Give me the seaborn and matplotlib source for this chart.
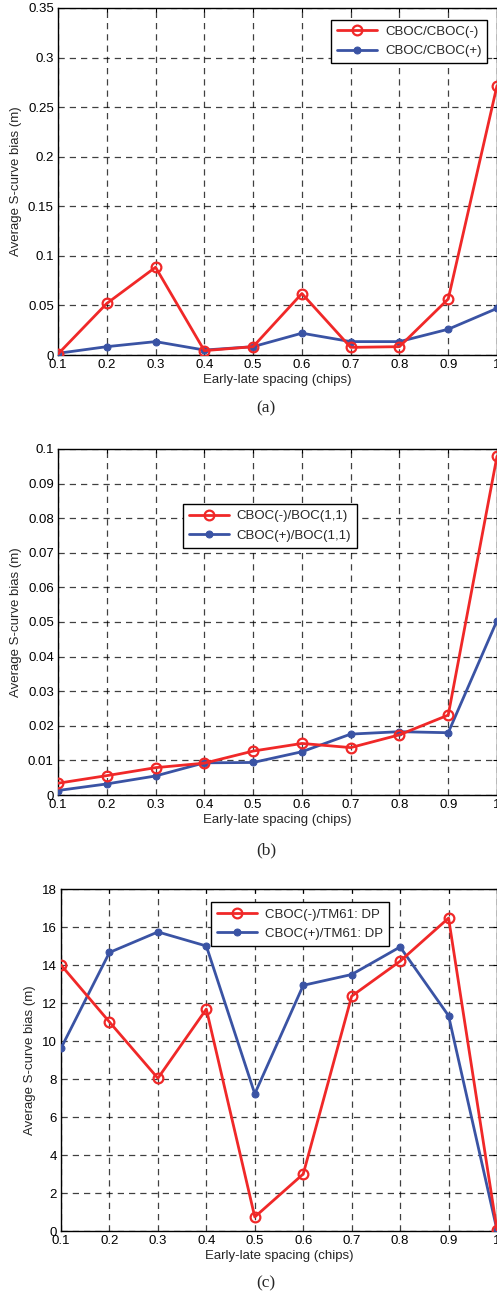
import numpy as np
import pandas as pd
import matplotlib
matplotlib.use("Agg")
import matplotlib.pyplot as plt
import seaborn as sns
from matplotlib.ticker import FuncFormatter

sns.set_style("white")
plt.rcParams['font.family'] = ['Liberation Sans', 'DejaVu Sans']

spacing = [0.1, 0.2, 0.3, 0.4, 0.5, 0.6, 0.7, 0.8, 0.9, 1.0]

a_red = [0.001, 0.052, 0.0885, 0.0044, 0.0084, 0.062, 0.0077, 0.0084, 0.0565, 0.2716]
a_blue = [0.0017, 0.0084, 0.0135, 0.005, 0.0084, 0.022, 0.0135, 0.0135, 0.026, 0.047]
a_labels = ["CBOC/CBOC(-)", "CBOC/CBOC(+)"]

b_red = [0.0034, 0.0056, 0.0079, 0.0092, 0.0127, 0.0149, 0.0137, 0.0174, 0.0231, 0.0979]
b_blue = [0.0013, 0.0032, 0.0055, 0.0093, 0.0094, 0.0125, 0.0176, 0.0183, 0.018, 0.0504]
b_labels = ["CBOC(-)/BOC(1,1)", "CBOC(+)/BOC(1,1)"]

c_red = [14.0, 11.0, 8.04, 11.68, 0.74, 3.0, 12.36, 14.2, 16.47, 0.05]
c_blue = [9.62, 14.66, 15.74, 15.0, 7.22, 12.93, 13.5, 14.95, 11.33, 0.05]
c_labels = ["CBOC(-)/TM61: DP", "CBOC(+)/TM61: DP"]

captions = ["(a)", "(b)", "(c)"]
xlabel = "Early-late spacing (chips)"
ylabel = "Average S-curve bias (m)"

RED = "#f02828"
BLUE = "#3a53a4"
FS = 9.5

fig = plt.figure(figsize=(4.97, 12.96), dpi=100)

panels = [
    dict(rect=[58/497, 941/1296, 439/497, 347/1296], red=a_red, blue=a_blue, labels=a_labels,
         ylim=(0, 0.35), ystep=0.05, leg=dict(loc='upper right', bbox_to_anchor=(0.993, 0.985)),
         cap_y=408),
    dict(rect=[58/497, 501/1296, 439/497, 346/1296], red=b_red, blue=b_blue, labels=b_labels,
         ylim=(0, 0.1), ystep=0.01, leg=dict(loc='upper left', bbox_to_anchor=(0.27, 0.86)),
         cap_y=850),
    dict(rect=[61/497, 65/1296, 436/497, 342/1296], red=c_red, blue=c_blue, labels=c_labels,
         ylim=(0, 18), ystep=2, leg=dict(loc='upper left', bbox_to_anchor=(0.33, 0.98)),
         cap_y=1283),
]

fmt = FuncFormatter(lambda v, p: "%g" % round(v, 6))

for i, P in enumerate(panels):
    ax = fig.add_axes(P['rect'])
    df = pd.DataFrame({"x": spacing, "red": P['red'], "blue": P['blue']})
    sns.lineplot(data=df, x="x", y="red", ax=ax, color=RED, lw=2.0, marker='o',
                 markersize=7, markerfacecolor='none', markeredgecolor=RED,
                 markeredgewidth=1.6, label=P['labels'][0], zorder=4)
    sns.lineplot(data=df, x="x", y="blue", ax=ax, color=BLUE, lw=2.0, marker='o',
                 markersize=5, markerfacecolor=BLUE, markeredgecolor=BLUE,
                 label=P['labels'][1], zorder=3)
    ax.set_xlim(0.1, 1.0)
    ax.set_ylim(*P['ylim'])
    ax.set_xticks(spacing)
    ax.set_yticks(np.arange(P['ylim'][0], P['ylim'][1] + P['ystep'] / 2, P['ystep']))
    ax.xaxis.set_major_formatter(fmt)
    ax.yaxis.set_major_formatter(fmt)
    ax.tick_params(direction='in', length=3, width=0.8, labelsize=FS, colors='black',
                   top=True, right=True, pad=3)
    ax.grid(True, color='black', linestyle=(0, (5, 4)), linewidth=0.9, alpha=0.75)
    for s in ax.spines.values():
        s.set_color('black')
        s.set_linewidth(1.0)
    ax.set_xlabel(xlabel, fontsize=FS, labelpad=2)
    ax.set_ylabel(ylabel, fontsize=FS, labelpad=4)
    leg = ax.legend(fontsize=FS, frameon=True, fancybox=False, edgecolor='black',
                    framealpha=1, handlelength=3.0, borderpad=0.45, labelspacing=0.55,
                    handletextpad=0.6, **P['leg'])
    leg.get_frame().set_linewidth(1.0)
    fig.text(0.535, 1 - P['cap_y'] / 1296, captions[i], ha='center', va='center',
             fontsize=12.5, family=['Liberation Serif', 'DejaVu Serif'])

fig.savefig("out.png", dpi=100)
